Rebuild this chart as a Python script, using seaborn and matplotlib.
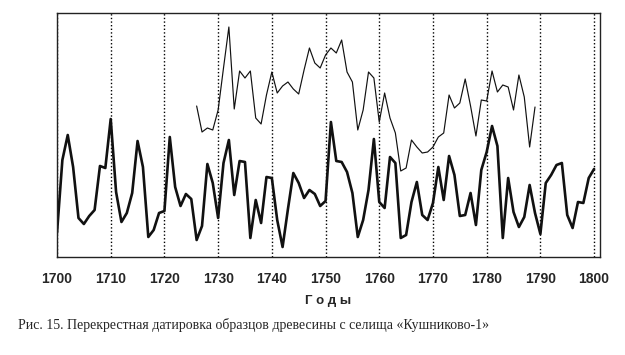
import numpy as np
import pandas as pd
import matplotlib
matplotlib.use("Agg")
import matplotlib.pyplot as plt
import seaborn as sns

# Thick series: 1700-1800 (relative index units)
years_a = list(range(1700, 1801))
pix_a = [233,160,135,167,218,224,216,210,166,168,
         119,192,222,213,193,141,167,237,230,213,
         211,137,187,206,194,199,240,226,164,183,
         218,163,140,195,161,162,238,200,223,177,
         178,220,247,209,173,183,198,190,194,206,
         201,122,161,162,172,193,237,220,190,139,
         202,208,157,163,238,235,202,182,215,220,
         203,167,200,156,175,216,215,193,225,170,
         152,126,146,238,178,212,227,217,185,213,
         234,183,175,165,163,215,228,202,203,178,169]
values_a = [257 - p for p in pix_a]

# Thin series: 1726-1789
years_b = list(range(1726, 1790))
pix_b = [106,132,128,130,110,68,27,109,71,78,
         71,118,124,95,72,93,86,82,89,94,
         70,48,63,68,55,48,53,40,72,82,
         130,110,72,78,122,93,118,133,171,168,
         140,147,153,152,147,137,133,95,108,103,
         79,106,136,100,101,71,92,85,87,110,
         75,97,147,107]
values_b = [257 - p for p in pix_b]

tick_years = list(range(1700, 1801, 10))
xlabel = "Г о д ы"
caption = "Рис. 15. Перекрестная датировка образцов древесины с селища «Кушниково-1»"

sns.set_style("white")
plt.rcParams['font.family'] = ['Liberation Sans', 'DejaVu Sans']

fig = plt.figure(figsize=(6.25, 3.55), dpi=100)
ax = fig.add_axes([57/625, 1-257/355, (600-57)/625, (257-13)/355])

df_a = pd.DataFrame({"year": years_a, "value": values_a})
df_b = pd.DataFrame({"year": years_b, "value": values_b})
sns.lineplot(data=df_a, x="year", y="value", ax=ax, color="#111111", linewidth=1.9)
sns.lineplot(data=df_b, x="year", y="value", ax=ax, color="#111111", linewidth=0.85)

ax.set_xlim(1700, 1801.1)
ax.set_ylim(0, 244)
ax.set_xticks(tick_years)
ax.set_xticklabels([str(t) for t in tick_years], fontsize=10, fontweight='bold')
ax.set_yticks([])
ax.set_ylabel("")
ax.set_xlabel(xlabel, fontsize=9.5, fontweight='bold', labelpad=7)
ax.grid(axis='x', linestyle=(0, (1, 1.6)), color='black', linewidth=1.0)
ax.tick_params(axis='x', direction='out', length=4, width=0.8, color='black', pad=6.5)
for s in ax.spines.values():
    s.set_visible(True)
    s.set_color('#222222')
    s.set_linewidth(1.0)

fig.text(18/625, 1-325/355, caption, fontsize=10, family=['Liberation Serif', 'DejaVu Serif'],
         va='center', ha='left')

fig.savefig("out.png", dpi=100)
